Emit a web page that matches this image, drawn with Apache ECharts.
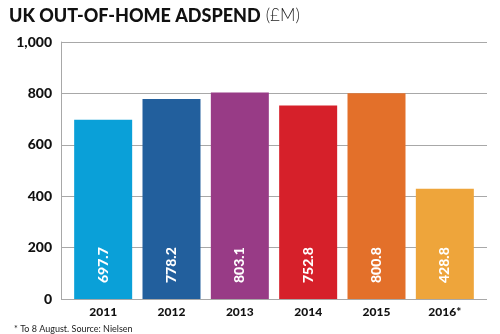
<!DOCTYPE html>
<html>
<head>
<meta charset="utf-8">
<script src="https://cdn.jsdelivr.net/npm/echarts@6/dist/echarts.min.js"></script>
<style>
  html, body { margin: 0; padding: 0; background: #ffffff; }
  #chart { width: 500px; height: 334px; }
</style>
</head>
<body>
<div id="chart"></div>
<script>
// UK out-of-home advertising spend, £M
const years = ['2011', '2012', '2013', '2014', '2015', '2016*'];
const spend = [697.7, 778.2, 803.1, 752.8, 800.8, 428.8];
const barColors = ['#0aa0d8', '#225f9d', '#983b86', '#d6202a', '#e3702a', '#eea53b'];
const yTicks = [0, 200, 400, 600, 800, 1000];

const chart = echarts.init(document.getElementById('chart'));

chart.setOption({
  backgroundColor: '#ffffff',
  animation: false,
  title: [{
    text: '{b|UK OUT-OF-HOME ADSPEND} {l|(£M)}',
    left: 4, top: 2,
    textStyle: {
      rich: {
        b: { fontFamily: 'Lato', fontWeight: 900, fontSize: 18, color: '#111111' },
        l: { fontFamily: 'Lato', fontWeight: 300, fontSize: 17, color: '#222222' }
      }
    }
  }, {
    text: '* To 8 August. Source: Nielsen',
    left: 9, top: 320,
    textStyle: { fontFamily: 'Lato', fontWeight: 400, fontSize: 9, color: '#222222' }
  }],
  grid: [
    // axis frame and gridlines
    { left: 61, right: 13, top: 42, bottom: 35 },
    // bars
    { left: 69, right: 21, top: 42, bottom: 35 }
  ],
  xAxis: [{
    gridIndex: 0, type: 'value', min: 0, max: 1, show: false
  }, {
    gridIndex: 1, type: 'category', data: years,
    axisLine: { show: false },
    axisTick: { show: false },
    axisLabel: { fontFamily: 'Lato', fontWeight: 900, fontSize: 12, color: '#111111', margin: 7 }
  }],
  yAxis: [{
    gridIndex: 0, type: 'value', min: 0, max: 1000, interval: 200,
    axisLine: { show: true, lineStyle: { color: '#a8a8a8', width: 1 } },
    axisTick: { show: false },
    splitLine: { show: true, lineStyle: { color: '#a8a8a8', width: 1 } },
    axisLabel: {
      fontFamily: 'Lato', fontWeight: 900, fontSize: 14, color: '#111111', margin: 9,
      customValues: yTicks,
      formatter: v => v.toLocaleString('en-US')
    }
  }, {
    gridIndex: 1, type: 'value', min: 0, max: 1000, interval: 200, show: false
  }],
  series: [{
    type: 'bar',
    xAxisIndex: 1, yAxisIndex: 1,
    barWidth: 58,
    data: spend.map((v, i) => ({ value: v, itemStyle: { color: barColors[i] } })),
    label: {
      show: true,
      position: 'insideBottom',
      rotate: 90,
      align: 'left',
      verticalAlign: 'middle',
      distance: 16,
      fontFamily: 'Lato', fontWeight: 900, fontSize: 14, color: '#ffffff',
      formatter: p => p.value.toFixed(1)
    }
  }]
});
</script>
</body>
</html>
